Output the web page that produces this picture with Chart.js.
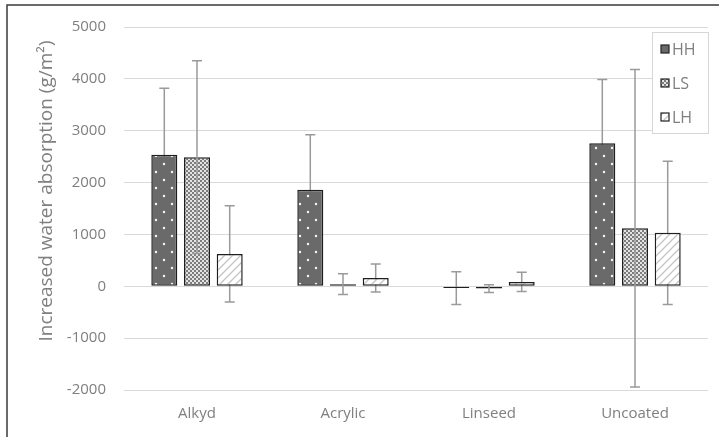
<!DOCTYPE html>
<html>
<head>
<meta charset="utf-8">
<script src="https://cdn.jsdelivr.net/npm/chart.js@4"></script>
<style>
  html, body { margin: 0; padding: 0; background: #fff; }
  #wrap { width: 719px; height: 437px; position: relative; }
</style>
</head>
<body>
<div id="wrap"><canvas id="grafico"></canvas></div>
<script>
// dados
const categorias = ["Alkyd", "Acrylic", "Linseed", "Uncoated"];
const serieHH = [2535, 1860, -35, 2760];
const serieLS = [2490, 40, -45, 1120];
const serieLH = [625, 160, 85, 1030];
// desvio padrão (barras de erro simétricas)
const erroHH = [1285, 1060, 315, 1230];
const erroLS = [1860, 200, 75, 3060];
const erroLH = [930, 270, 185, 1380];
const tituloY = "Increased water absorption (g/m²)";

const cinzaTexto = "#7f7f7f";
const fonte = "'Open Sans', sans-serif";

// padrões de preenchimento
function padrao(tam, desenha) {
  const c = document.createElement("canvas");
  c.width = tam; c.height = tam;
  const g = c.getContext("2d");
  desenha(g, tam);
  return document.createElement("canvas").getContext("2d").createPattern(c, "repeat");
}
const padraoHH = padrao(16, (g, t) => {
  g.fillStyle = "#6a6a6a"; g.fillRect(0, 0, t, t);
  g.fillStyle = "#f8f8f8";
  g.beginPath(); g.arc(4, 4, 1.2, 0, Math.PI * 2); g.fill();
  g.beginPath(); g.arc(12, 12, 1.2, 0, Math.PI * 2); g.fill();
});
const padraoLS = padrao(4, (g, t) => {
  g.fillStyle = "#e4e4e4"; g.fillRect(0, 0, t, t);
  g.fillStyle = "#7c7c7c";
  g.fillRect(0, 0, 2, 2); g.fillRect(2, 2, 2, 2);
});
const padraoLH = padrao(8, (g, t) => {
  g.fillStyle = "#ffffff"; g.fillRect(0, 0, t, t);
  g.strokeStyle = "#c4c4c4"; g.lineWidth = 1.3;
  g.beginPath();
  g.moveTo(0, t); g.lineTo(t, 0);
  g.moveTo(-1, 1); g.lineTo(1, -1);
  g.moveTo(t - 1, t + 1); g.lineTo(t + 1, t - 1);
  g.stroke();
});

const erros = [erroHH, erroLS, erroLH];

function desenhaErros(chart, indices) {
  const ctx = chart.ctx;
  const y = chart.scales.y;
  ctx.save();
  ctx.strokeStyle = "#9a9a9a";
  ctx.lineWidth = 1.5;
  indices.forEach((d) => {
    const meta = chart.getDatasetMeta(d);
    const valores = chart.data.datasets[d].data;
    meta.data.forEach((barra, i) => {
      const x = barra.x;
      const alto = y.getPixelForValue(valores[i] + erros[d][i]);
      const baixo = y.getPixelForValue(valores[i] - erros[d][i]);
      ctx.beginPath();
      ctx.moveTo(x, alto); ctx.lineTo(x, baixo);
      ctx.moveTo(x - 5, alto); ctx.lineTo(x + 5, alto);
      ctx.moveTo(x - 5, baixo); ctx.lineTo(x + 5, baixo);
      ctx.stroke();
    });
  });
  ctx.restore();
}

const pluginExtras = {
  id: "extras",
  beforeDraw(chart) {
    const ctx = chart.ctx;
    ctx.save();
    ctx.fillStyle = "#fff";
    ctx.fillRect(0, 0, chart.width, chart.height);
    ctx.strokeStyle = "#3a3a3a";
    ctx.lineWidth = 1.5;
    ctx.beginPath();
    ctx.moveTo(7, chart.height); ctx.lineTo(7, 5); ctx.lineTo(chart.width, 5);
    ctx.stroke();
    ctx.restore();
  },
  beforeDatasetsDraw(chart) {
    desenhaErros(chart, [0, 2]);
  },
  afterDatasetsDraw(chart) {
    desenhaErros(chart, [1]);
  },
  afterDraw(chart) {
    const ctx = chart.ctx;
    ctx.save();
    // título do eixo y
    ctx.translate(47, 191);
    ctx.rotate(-Math.PI / 2);
    ctx.fillStyle = cinzaTexto;
    ctx.font = "19px " + fonte;
    ctx.textAlign = "center";
    ctx.textBaseline = "middle";
    ctx.fillText(tituloY, 0, 0);
    ctx.restore();

    // legenda
    ctx.save();
    ctx.fillStyle = "#fff";
    ctx.strokeStyle = "#d6d6d6";
    ctx.lineWidth = 1;
    ctx.fillRect(652, 32, 56, 101);
    ctx.strokeRect(652.5, 32.5, 56, 101);
    chart.data.datasets.forEach((ds, i) => {
      const cy = 49 + i * 34;
      ctx.fillStyle = ds.backgroundColor;
      ctx.fillRect(661, cy - 4, 8, 8);
      ctx.strokeStyle = "#222";
      ctx.lineWidth = 1.2;
      ctx.strokeRect(661, cy - 4, 8, 8);
      ctx.fillStyle = cinzaTexto;
      ctx.font = "16px " + fonte;
      ctx.textBaseline = "middle";
      ctx.fillText(ds.label, 672, cy + 1);
    });
    ctx.restore();
  },
};

const ctx = document.getElementById("grafico").getContext("2d");
new Chart(ctx, {
  type: "bar",
  data: {
    labels: categorias,
    datasets: [
      { label: "HH", data: serieHH, backgroundColor: padraoHH },
      { label: "LS", data: serieLS, backgroundColor: padraoLS },
      { label: "LH", data: serieLH, backgroundColor: padraoLH },
    ].map((d) => ({
      ...d,
      borderColor: "#1e1e1e",
      borderWidth: 1.5,
      borderSkipped: false,
      categoryPercentage: 0.672,
      barPercentage: 0.795,
    })),
  },
  options: {
    responsive: true,
    maintainAspectRatio: false,
    animation: false,
    layout: { padding: { top: 26, right: 11, bottom: 0, left: 0 } },
    plugins: {
      legend: { display: false },
      tooltip: { enabled: false },
    },
    scales: {
      x: {
        afterFit(scale) { scale.height = 47; },
        grid: { display: false },
        border: { display: false },
        ticks: { color: cinzaTexto, font: { family: fonte, size: 15 }, padding: 7 },
      },
      y: {
        min: -2000,
        max: 5000,
        afterFit(scale) { scale.width = 124; },
        grid: { color: "#d9d9d9", lineWidth: 1, drawTicks: false },
        border: { display: false },
        ticks: {
          stepSize: 1000,
          padding: 18,
          color: cinzaTexto,
          font: { family: fonte, size: 15 },
          callback: (v) => String(v),
        },
      },
    },
  },
  plugins: [pluginExtras],
});
</script>
</body>
</html>
